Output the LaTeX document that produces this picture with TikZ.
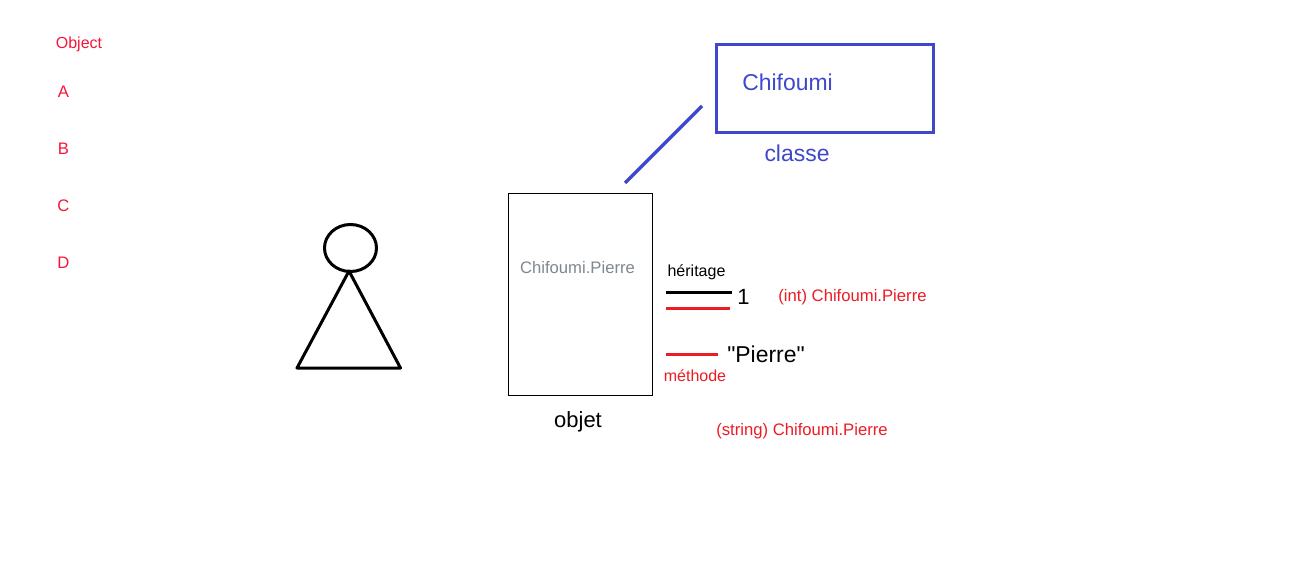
\documentclass[tikz,border=0pt]{standalone}
\usepackage{fontspec}
\setmainfont{Liberation Sans}
\newfontfamily\plainq{Liberation Sans}
\definecolor{pblue}{HTML}{3F48CC}
\definecolor{pred}{HTML}{ED1C24}
\definecolor{ppink}{HTML}{F5163C}
\definecolor{pgray}{HTML}{7F8890}
\tikzset{
  x=0.75pt,y=-0.75pt,
  lbl/.style={inner sep=0pt,outer sep=0pt,anchor=center},
  small/.style={lbl,font=\fontsize{12}{14}\selectfont},
  mid/.style={lbl,font=\fontsize{12.5}{15}\selectfont},
  big/.style={lbl,font=\fontsize{16.5}{20}\selectfont},
  bigger/.style={lbl,font=\fontsize{17.2}{20}\selectfont},
  thickline/.style={line width=2.25pt},
  thinbox/.style={draw=black,line width=0.75pt},
}
\begin{document}
\begin{tikzpicture}
\useasboundingbox (0,0) rectangle (1305,571);
\fill[white] (0,0) rectangle (1305,571);
% left list
\node[small,text=ppink] (obj) at (79,44.8) {Object};
\node[mid,text=ppink] (a) at (63.5,91.5) {A};
\node[mid,text=ppink] (b) at (63.5,148.5) {B};
\node[mid,text=ppink] (c) at (63.5,205.5) {C};
\node[mid,text=ppink] (d) at (63.5,262.5) {D};
% figure
\draw[thickline,line join=round] (349,271) -- (297,368) -- (400.5,368) -- cycle;
\draw[thickline] (350.5,248) ellipse [x radius=26,y radius=23.5];
% object box
\draw[thinbox] (508.5,193.5) rectangle (652.5,395.5);
\node[mid,text=pgray] (cp) at (577.5,267.5) {Chifoumi.Pierre};
\node[big,text=black] (objet) at (578,421.5) {objet};
% class box
\draw[pblue,thickline] (716.5,44.8) rectangle (933.5,132.8);
\node[bigger,text=pblue] (chif) at (787.5,82) {Chifoumi};
\node[bigger,text=pblue] (classe) at (797,153) {classe};
\coordinate (l1) at (625,183);
\coordinate (l2) at (702,106);
\draw[pblue,line width=2.5pt] (l1) -- (l2);
% right side
\node[small,text=black] (her) at (696.5,272) {héritage};
\coordinate (k1) at (666,292.5); \coordinate (k2) at (732,292.5);
\draw[black,thickline] (k1) -- (k2);
\coordinate (r1) at (666,308.5); \coordinate (r2) at (730,308.5);
\draw[pred,thickline] (r1) -- (r2);
\node[big,text=black] (one) at (743.5,296.5) {1};
\node[mid,text=pred] (int) at (852.5,297) {(int) Chifoumi.Pierre};
\coordinate (m1) at (666,354.5); \coordinate (m2) at (718,354.5);
\draw[pred,thickline] (m1) -- (m2);
\node[bigger,text=black] (pierre) at (766,354.5) {\plainq "Pierre"};
\node[small,text=pred] (meth) at (695,375.5) {méthode};
\node[mid,text=pred] (str) at (802,431) {(string) Chifoumi.Pierre};
\end{tikzpicture}
\end{document}
